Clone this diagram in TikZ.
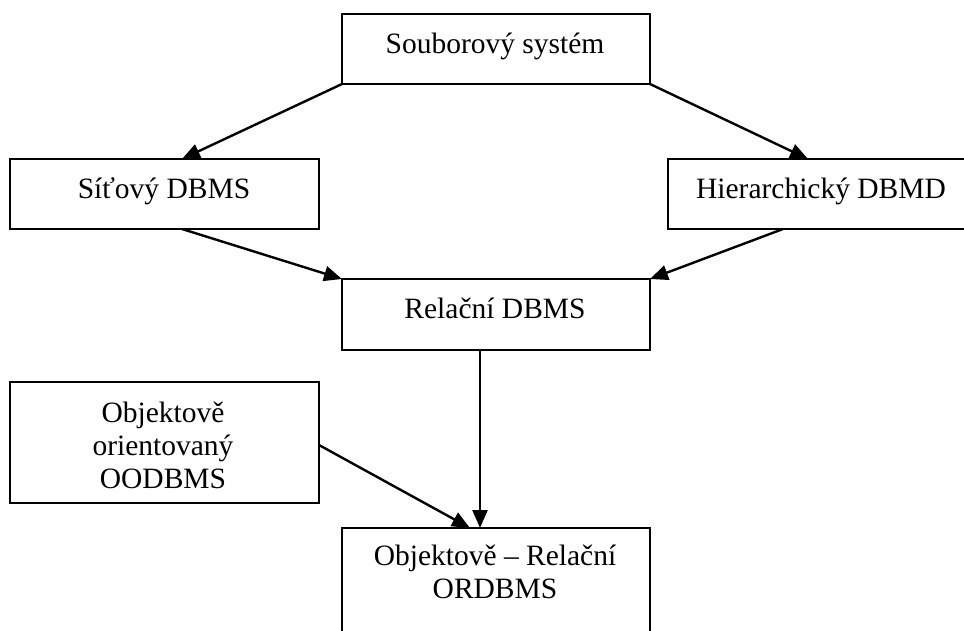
\documentclass[tikz,border=0pt]{standalone}
\usepackage{fontspec}
\setmainfont{Liberation Serif}
\usetikzlibrary{arrows.meta,calc}
\begin{document}
\begin{tikzpicture}[x=1pt,y=-1pt,
  box/.style={draw,line width=1.9pt,outer sep=0pt,inner sep=0pt,anchor=north west},
  lbl/.style={anchor=base,inner sep=0pt,font=\fontsize{29.5}{33}\selectfont},
  conn/.style={line width=2.4pt,-{Triangle[length=18pt,width=15pt]}}]
  % page frame
  \useasboundingbox (0,0) rectangle (964,630);
  \fill[white] (0,0) rectangle (964,630);
  \clip (0,0) rectangle (964,630);

  % boxes
  \node[box,minimum width=308pt,minimum height=70pt]  (fs)  at (342,14)  {};
  \node[box,minimum width=309pt,minimum height=70pt]  (sit) at (10,159)  {};
  \node[box,minimum width=306pt,minimum height=70pt]  (hie) at (668,159) {};
  \node[box,minimum width=308pt,minimum height=71pt]  (rel) at (342,279) {};
  \node[box,minimum width=309pt,minimum height=121pt] (oo)  at (10,382)  {};
  \node[box,minimum width=308pt,minimum height=130pt] (ord) at (342,528) {};

  % labels
  \node[lbl] (fsT)  at (495,53)  {Souborový systém};
  \node[lbl] (sitT) at (164,198) {Síťový DBMS};
  \node[lbl] (hieT) at (821,198) {Hierarchický DBMD};
  \node[lbl] (relT) at (495,318) {Relační DBMS};
  \node[lbl] (ooA)  at (163,422) {Objektově};
  \node[lbl] (ooB)  at (163,455) {orientovaný};
  \node[lbl] (ooC)  at (163,488) {OODBMS};
  \node[lbl] (ordA) at (495,565) {Objektově – Relační};
  \node[lbl] (ordB) at (495,598) {ORDBMS};

  % connectors
  \draw[conn] (fs.south west) -- ($(sit.north west)+(172,0)$);
  \draw[conn] (fs.south east) -- ($(hie.north west)+(140,0)$);
  \draw[conn] ($(sit.south west)+(172,0)$) -- (rel.north west);
  \draw[conn] ($(hie.south west)+(115,0)$) -- (rel.north east);
  \draw[conn] ($(rel.south west)+(138,0)$) -- ($(ord.north west)+(138,0)$);
  \draw[conn] ($(oo.north east)+(0,63)$) -- ($(ord.north west)+(128,0)$);
\end{tikzpicture}
\end{document}
